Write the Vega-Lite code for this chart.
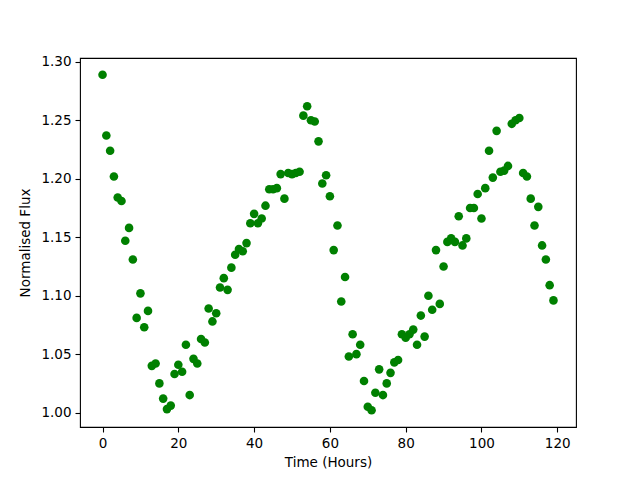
{
  "$schema": "https://vega.github.io/schema/vega-lite/v6.json",
  "width": 496,
  "height": 369,
  "autosize": {"type": "none"},
  "padding": {"left": 80, "top": 58, "right": 64, "bottom": 53},
  "background": "white",
  "config": {
    "view": {"stroke": "black", "strokeWidth": 1.1},
    "axis": {
      "grid": false,
      "domain": false,
      "tickColor": "black",
      "tickSize": 5,
      "tickWidth": 1.1,
      "labelFont": "DejaVu Sans",
      "labelFontSize": 13.5,
      "labelColor": "black",
      "labelPadding": 4,
      "titleFont": "DejaVu Sans",
      "titleFontSize": 13.5,
      "titleFontWeight": "normal",
      "titleColor": "black"
    }
  },
  "data": {
    "values": [
      {"t": 0, "f": 1.289}, {"t": 1, "f": 1.237}, {"t": 2, "f": 1.224}, {"t": 3, "f": 1.202},
      {"t": 4, "f": 1.184}, {"t": 5, "f": 1.181}, {"t": 6, "f": 1.147}, {"t": 7, "f": 1.158},
      {"t": 8, "f": 1.131}, {"t": 9, "f": 1.081}, {"t": 10, "f": 1.102}, {"t": 11, "f": 1.073},
      {"t": 12, "f": 1.087}, {"t": 13, "f": 1.040}, {"t": 14, "f": 1.042}, {"t": 15, "f": 1.025},
      {"t": 16, "f": 1.012}, {"t": 17, "f": 1.003}, {"t": 18, "f": 1.006}, {"t": 19, "f": 1.033},
      {"t": 20, "f": 1.041}, {"t": 21, "f": 1.035}, {"t": 22, "f": 1.058}, {"t": 23, "f": 1.015},
      {"t": 24, "f": 1.046}, {"t": 25, "f": 1.042}, {"t": 26, "f": 1.063}, {"t": 27, "f": 1.060},
      {"t": 28, "f": 1.089}, {"t": 29, "f": 1.078}, {"t": 30, "f": 1.085}, {"t": 31, "f": 1.107},
      {"t": 32, "f": 1.115}, {"t": 33, "f": 1.105}, {"t": 34, "f": 1.124}, {"t": 35, "f": 1.135},
      {"t": 36, "f": 1.140}, {"t": 37, "f": 1.138}, {"t": 38, "f": 1.145}, {"t": 39, "f": 1.162},
      {"t": 40, "f": 1.170}, {"t": 41, "f": 1.162}, {"t": 42, "f": 1.166}, {"t": 43, "f": 1.177},
      {"t": 44, "f": 1.191}, {"t": 45, "f": 1.191}, {"t": 46, "f": 1.192}, {"t": 47, "f": 1.204},
      {"t": 48, "f": 1.183}, {"t": 49, "f": 1.205}, {"t": 50, "f": 1.204}, {"t": 51, "f": 1.205},
      {"t": 52, "f": 1.206}, {"t": 53, "f": 1.254}, {"t": 54, "f": 1.262}, {"t": 55, "f": 1.250},
      {"t": 56, "f": 1.249}, {"t": 57, "f": 1.232}, {"t": 58, "f": 1.196}, {"t": 59, "f": 1.203},
      {"t": 60, "f": 1.185}, {"t": 61, "f": 1.139}, {"t": 62, "f": 1.160}, {"t": 63, "f": 1.095},
      {"t": 64, "f": 1.116}, {"t": 65, "f": 1.048}, {"t": 66, "f": 1.067}, {"t": 67, "f": 1.050},
      {"t": 68, "f": 1.058}, {"t": 69, "f": 1.027}, {"t": 70, "f": 1.005}, {"t": 71, "f": 1.002},
      {"t": 72, "f": 1.017}, {"t": 73, "f": 1.037}, {"t": 74, "f": 1.015}, {"t": 75, "f": 1.025},
      {"t": 76, "f": 1.034}, {"t": 77, "f": 1.043}, {"t": 78, "f": 1.045}, {"t": 79, "f": 1.067},
      {"t": 80, "f": 1.064}, {"t": 81, "f": 1.067}, {"t": 82, "f": 1.071}, {"t": 83, "f": 1.058},
      {"t": 84, "f": 1.083}, {"t": 85, "f": 1.065}, {"t": 86, "f": 1.100}, {"t": 87, "f": 1.088},
      {"t": 88, "f": 1.139}, {"t": 89, "f": 1.093}, {"t": 90, "f": 1.125}, {"t": 91, "f": 1.146},
      {"t": 92, "f": 1.149}, {"t": 93, "f": 1.146}, {"t": 94, "f": 1.168}, {"t": 95, "f": 1.143},
      {"t": 96, "f": 1.149}, {"t": 97, "f": 1.175}, {"t": 98, "f": 1.175}, {"t": 99, "f": 1.187},
      {"t": 100, "f": 1.166}, {"t": 101, "f": 1.192}, {"t": 102, "f": 1.224}, {"t": 103, "f": 1.201},
      {"t": 104, "f": 1.241}, {"t": 105, "f": 1.206}, {"t": 106, "f": 1.207}, {"t": 107, "f": 1.211},
      {"t": 108, "f": 1.247}, {"t": 109, "f": 1.250}, {"t": 110, "f": 1.252}, {"t": 111, "f": 1.205},
      {"t": 112, "f": 1.202}, {"t": 113, "f": 1.183}, {"t": 114, "f": 1.160}, {"t": 115, "f": 1.176},
      {"t": 116, "f": 1.143}, {"t": 117, "f": 1.131}, {"t": 118, "f": 1.109}, {"t": 119, "f": 1.096}
    ]
  },
  "mark": {"type": "circle", "color": "#008000", "opacity": 1, "size": 74},
  "encoding": {
    "x": {
      "field": "t",
      "type": "quantitative",
      "title": "Time (Hours)",
      "scale": {"domain": [-5.95, 124.95], "nice": false, "zero": false},
      "axis": {"values": [0, 20, 40, 60, 80, 100, 120], "titlePadding": 6}
    },
    "y": {
      "field": "f",
      "type": "quantitative",
      "title": "Normalised Flux",
      "scale": {"domain": [0.9877, 1.3033], "nice": false, "zero": false},
      "axis": {"values": [1.0, 1.05, 1.1, 1.15, 1.2, 1.25, 1.3], "format": ".2f", "titlePadding": 8}
    }
  }
}
